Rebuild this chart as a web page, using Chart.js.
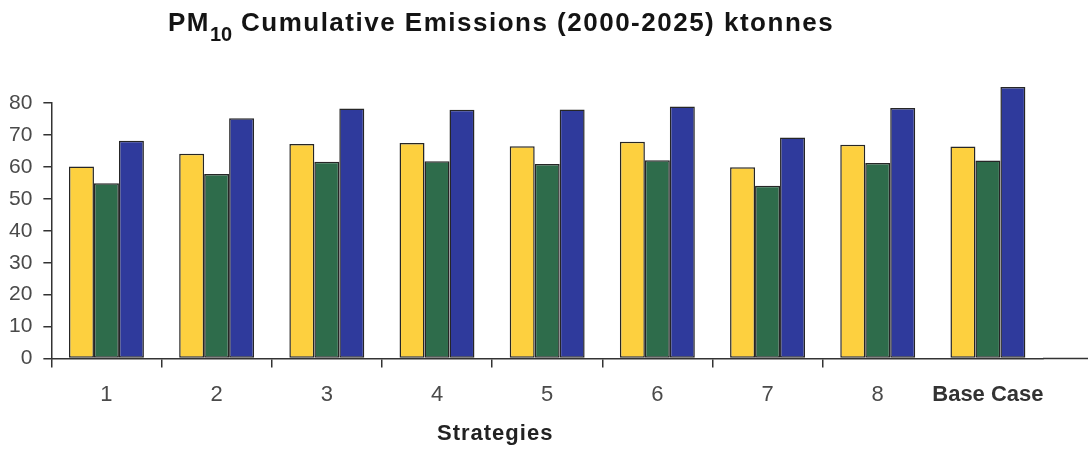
<!DOCTYPE html>
<html>
<head>
<meta charset="utf-8">
<title>PM10 Cumulative Emissions</title>
<script src="https://cdn.jsdelivr.net/npm/chart.js@4.4.1/dist/chart.umd.min.js"></script>
<style>
  html, body { margin: 0; padding: 0; background: #ffffff; }
  #wrap { position: relative; width: 1088px; height: 451px; }
  #chartTitle {
    position: absolute; left: 168px; top: 9px; margin: 0;
    font-family: "Liberation Sans", Arial, sans-serif; font-weight: bold;
    font-size: 26px; line-height: 26px; letter-spacing: 1.5px;
    color: #141414; white-space: nowrap;
  }
  #chartTitle sub { font-size: 20px; vertical-align: -10px; line-height: 0; letter-spacing: 0; }
  #xTitle {
    position: absolute; left: 437px; top: 422px; margin: 0;
    font-family: "Liberation Sans", Arial, sans-serif; font-weight: bold;
    font-size: 22px; line-height: 22px; letter-spacing: 1px;
    color: #222; white-space: nowrap;
  }
  canvas { position: absolute; left: 0; top: 0; }
</style>
</head>
<body>
<div id="wrap">
  <canvas id="chart" width="1088" height="451"></canvas>
  <h1 id="chartTitle">PM<sub>10</sub> Cumulative Emissions (2000-2025) ktonnes</h1>
  <div id="xTitle">Strategies</div>
</div>
<script>
// Strategy categories along the x axis
const categories = ['1', '2', '3', '4', '5', '6', '7', '8', 'Base Case'];

// Cumulative PM10 emissions per strategy, ktonnes (three series)
const seriesYellow = [60.1, 64.1, 67.2, 67.5, 66.5, 67.9, 59.9, 66.9, 66.4];
const seriesGreen  = [54.9, 57.8, 61.6, 61.8, 60.9, 62.1, 54.1, 61.2, 62.0];
const seriesBlue   = [68.2, 75.2, 78.3, 77.9, 78.0, 78.9, 69.2, 78.4, 85.0];

// Value axis tick labels
const yTicks = [0, 10, 20, 30, 40, 50, 60, 70, 80];

const FONT = '"Liberation Sans", Arial, sans-serif';
const AXIS = '#333333';
const EDGE = '#262626';
const NONE = 'rgba(0,0,0,0)';

// Carries the category axis line on to the right edge of the canvas
const axisRunout = {
  id: 'axisRunout',
  afterDraw(chart) {
    const { ctx, chartArea } = chart;
    ctx.save();
    ctx.strokeStyle = AXIS;
    ctx.lineWidth = 1.5;
    ctx.beginPath();
    ctx.moveTo(chartArea.right, chartArea.bottom);
    ctx.lineTo(chart.width, chartArea.bottom);
    ctx.stroke();
    ctx.restore();
  }
};

function barSet(label, data, fill) {
  return {
    label, data,
    backgroundColor: fill,
    borderColor: EDGE,
    borderWidth: 1.5,
    borderSkipped: false,
    categoryPercentage: 0.68,
    barPercentage: 1.0,
    clip: false
  };
}

new Chart(document.getElementById('chart'), {
  type: 'bar',
  data: {
    labels: categories,
    datasets: [
      barSet('Series 1', seriesYellow, '#fdd03f'),
      barSet('Series 2', seriesGreen, '#2e6c4b'),
      barSet('Series 3', seriesBlue, '#2f3a9c')
    ]
  },
  plugins: [axisRunout],
  options: {
    responsive: false,
    animation: false,
    events: [],
    layout: { padding: { top: 103, right: 45, bottom: 29, left: -2 } },
    plugins: {
      legend: { display: false },
      title: { display: false },
      tooltip: { enabled: false }
    },
    scales: {
      x: {
        grid: {
          offset: true,
          drawOnChartArea: false,
          drawTicks: true,
          tickLength: 9,
          lineWidth: 1.5,
          color: (c) => (c.index === undefined || c.index >= 8 ? NONE : AXIS)
        },
        border: { display: true, color: AXIS, width: 1.5 },
        ticks: {
          autoSkip: false,
          maxRotation: 0,
          minRotation: 0,
          padding: 14,
          color: (c) => (c.index === 8 ? '#333' : '#4a4a4a'),
          font: (c) => (c.index === 8
            ? { family: FONT, size: 22, weight: 'bold' }
            : { family: FONT, size: 22 })
        }
      },
      y: {
        min: 0,
        max: 80,
        afterBuildTicks: (scale) => { scale.ticks = yTicks.map(v => ({ value: v })); },
        grid: {
          drawOnChartArea: false,
          drawTicks: true,
          tickLength: 8,
          lineWidth: 1.5,
          color: AXIS
        },
        border: { display: true, color: AXIS, width: 1.5 },
        ticks: {
          autoSkip: false,
          padding: 11,
          color: '#4a4a4a',
          font: { family: FONT, size: 21 }
        }
      }
    }
  }
});
</script>
</body>
</html>
